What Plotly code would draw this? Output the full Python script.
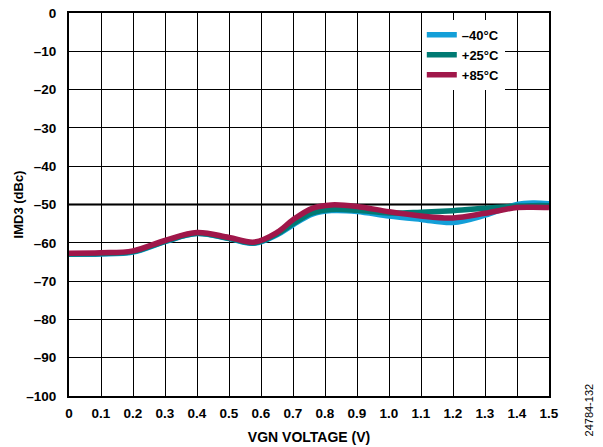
import plotly.graph_objects as go

x_vals = [0, 0.1, 0.2, 0.3, 0.4, 0.5, 0.58, 0.65, 0.7, 0.76, 0.82, 0.9, 1.0, 1.1, 1.2, 1.3, 1.4, 1.45, 1.5]
imd3_m40 = [-63.0, -62.9, -62.4, -59.7, -57.6, -58.9, -60.1, -57.9, -55.3, -52.5, -51.6, -51.8, -53.0, -53.9, -54.7, -52.8, -50.0, -49.6, -49.8]
imd3_p25 = [-62.9, -62.8, -62.3, -59.6, -57.5, -58.8, -60.0, -57.7, -55.0, -52.2, -51.3, -51.5, -52.2, -52.0, -51.6, -51.0, -50.4, -50.3, -50.3]
imd3_p85 = [-62.7, -62.6, -62.1, -59.4, -57.3, -58.6, -59.8, -57.3, -54.0, -51.0, -50.1, -50.5, -51.9, -53.0, -53.5, -52.3, -50.8, -50.7, -50.8]

series_names = ["–40°C", "+25°C", "+85°C"]
series_colors = ["#139fd8", "#007a73", "#a0174a"]

x_ticks = [i / 10 for i in range(16)]
x_ticktext = ["0", "0.1", "0.2", "0.3", "0.4", "0.5", "0.6", "0.7", "0.8", "0.9",
              "1.0", "1.1", "1.2", "1.3", "1.4", "1.5"]
y_ticks = [0, -10, -20, -30, -40, -50, -60, -70, -80, -90, -100]
y_ticktext = ["0", "–10", "–20", "–30", "–40", "–50", "–60", "–70", "–80", "–90", "–100"]

fig = go.Figure()
for name, ys, col in zip(series_names, [imd3_m40, imd3_p25, imd3_p85], series_colors):
    fig.add_trace(go.Scatter(x=x_vals, y=ys, name=name, mode="lines",
                             line=dict(color=col, width=5.5, shape="spline", smoothing=1.0)))

font_family = "Liberation Sans, Arial, sans-serif"
fig.update_layout(
    width=603, height=447,
    margin=dict(l=69, r=54, t=13, b=51, autoexpand=False),
    paper_bgcolor="white", plot_bgcolor="white",
    font=dict(family=font_family, color="black", size=12),
    showlegend=True,
    legend=dict(x=0.735, y=0.982, xanchor="left", yanchor="top",
                bgcolor="white", borderwidth=0,
                font=dict(size=13, family=font_family, weight="bold"),
                tracegroupgap=0, itemwidth=30),
    xaxis=dict(range=[0, 1.5], tickvals=x_ticks, ticktext=x_ticktext,
               showgrid=True, gridcolor="black", gridwidth=1,
               showline=True, linecolor="black", linewidth=2, mirror=True,
               ticks="", zeroline=False, automargin=False, ticklabelstandoff=4,
               tickfont=dict(size=13.5, weight="bold"),
               title=dict(text="VGN VOLTAGE (V)", font=dict(size=14, weight="bold"), standoff=12)),
    yaxis=dict(range=[-100, 0], tickvals=y_ticks, ticktext=y_ticktext,
               showgrid=True, gridcolor="black", gridwidth=1,
               showline=True, linecolor="black", linewidth=2, mirror=True,
               ticks="", zeroline=False, automargin=False, ticklabelstandoff=8,
               tickfont=dict(size=13.5, weight="bold"),
               title=dict(text="IMD3 (dBc)", font=dict(size=13, weight="bold"), standoff=0)),
)
fig.add_hline(y=-50, line=dict(color="#4a4a4a", width=2.5), layer="below")
fig.add_annotation(text="24784-132", xref="paper", yref="paper", x=1.083, y=-0.11,
                   xanchor="center", yanchor="bottom", textangle=-90, showarrow=False,
                   font=dict(size=11, family=font_family, weight="normal"))

fig.write_html("out.html", config={"displayModeBar": False},
               post_script="document.body.style.margin='0';document.body.style.overflow='hidden';")
